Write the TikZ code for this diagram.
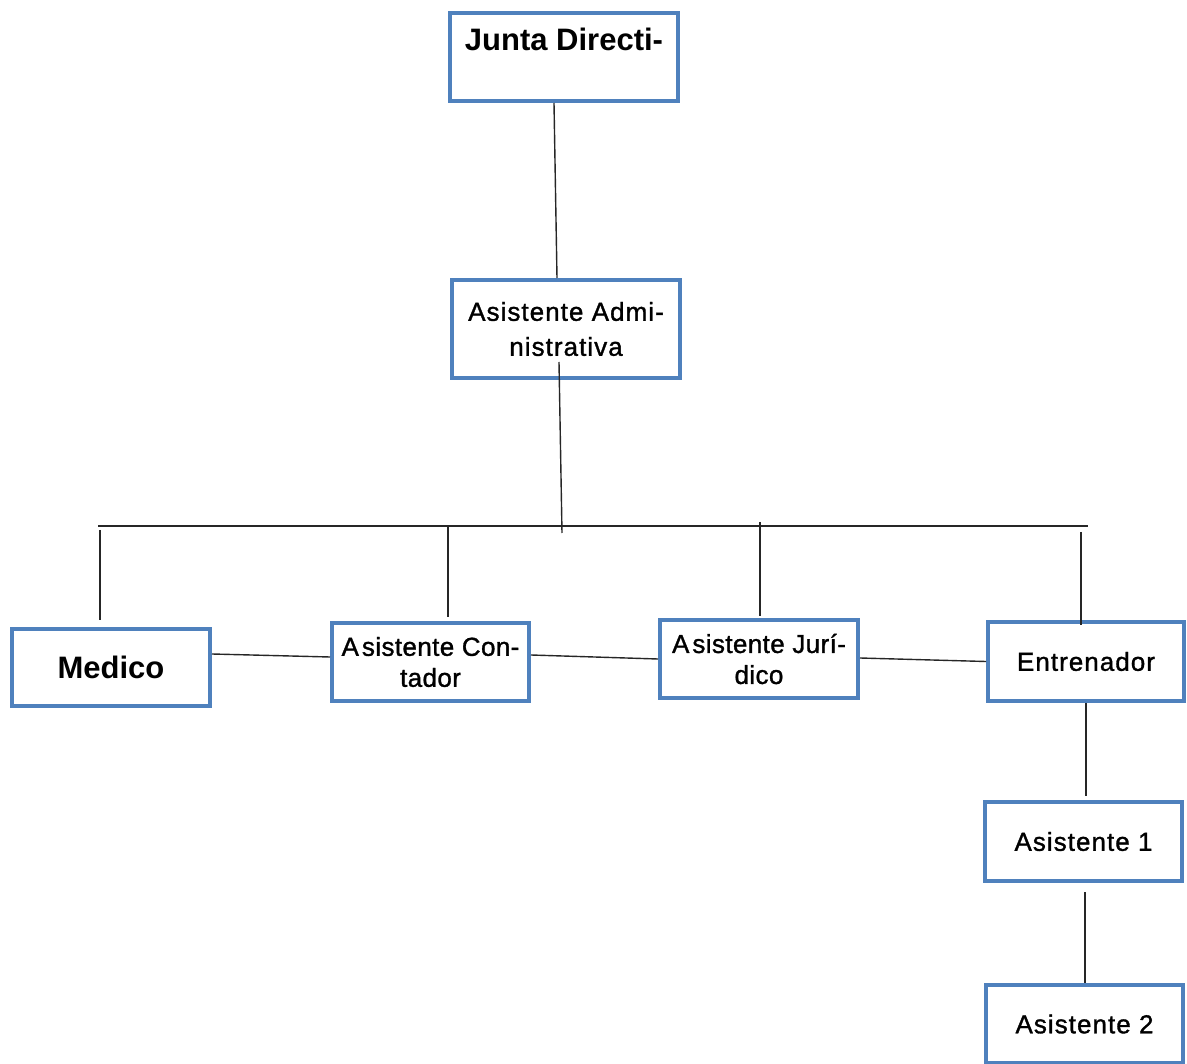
\documentclass[tikz,border=0pt]{standalone}
\usepackage{fontspec}
\setmainfont{Liberation Sans}
\newfontfamily\spacedfont[LetterSpace=4,FakeBold=1.2]{Liberation Sans}
\newfontfamily\tightfont[LetterSpace=1.5,FakeBold=1.2]{Liberation Sans}
\definecolor{boxblue}{HTML}{4F81BD}
\begin{document}
\begin{tikzpicture}[x=1pt,y=-1pt,
  orgbox/.style={draw=boxblue, line width=4pt, fill=white, inner sep=0pt, align=center},
  conn/.style={draw=black!85, line width=1.4pt},
  reg/.style={font=\spacedfont\fontsize{26}{31}\selectfont},
  tight/.style={font=\tightfont\fontsize{26}{31}\selectfont},
  bld/.style={font=\bfseries\fontsize{31}{35}\selectfont}]
\useasboundingbox (0,0) rectangle (1187,1064);
\clip (0,0) rectangle (1187,1064);

\node[orgbox,bld,minimum width=228,minimum height=88] (junta) at (564,57) {Junta Directi-\\\mbox{}};
\node[orgbox,reg,font=\spacedfont\fontsize{26}{35}\selectfont,minimum width=228,minimum height=98] (admin) at (566,329) {Asistente Admi-\\nistrativa};
\node[orgbox,bld,minimum width=198,minimum height=77] (medico) at (111,667.5) {Medico};
\node[orgbox,tight,minimum width=197,minimum height=78] (contador) at (430.5,662) {A\kern3pt sistente Con-\\tador};
\node[orgbox,tight,minimum width=198,minimum height=78] (juridico) at (759,659) {A\kern3pt sistente Jurí-\\dico};
\node[orgbox,reg,minimum width=196,minimum height=79] (entrenador) at (1086,661.5) {Entrenador};
\node[orgbox,reg,minimum width=197,minimum height=79] (asist1) at (1083.5,841.5) {Asistente 1};
\node[orgbox,reg,minimum width=197,minimum height=78] (asist2) at (1084.5,1024) {Asistente 2};

\coordinate (busL) at (98,526);
\coordinate (busR) at (1088,526);
\coordinate (busA) at (562,533);
\coordinate (dropM) at (100,530);
\coordinate (dropC) at (448,526);
\coordinate (dropJ) at (760,522);
\coordinate (dropE) at (1081,532);

\draw[conn] ([xshift=-10pt]junta.south) -- ([xshift=-9pt]admin.north);
\draw[conn] ([xshift=-7pt,yshift=18pt]admin.south) -- (busA);
\draw[conn] (busL) -- (busR);
\draw[conn] (dropM) -- ([xshift=-11pt,yshift=7pt]medico.north);
\draw[conn] (dropC) -- ([xshift=17.5pt,yshift=4pt]contador.north);
\draw[conn] (dropJ) -- ([xshift=1pt,yshift=2pt]juridico.north);
\draw[conn] (dropE) -- ([xshift=-5pt,yshift=-5pt]entrenador.north);
\draw[conn] ([yshift=13.5pt]medico.east) -- ([yshift=5pt]contador.west);
\draw[conn] ([yshift=7pt]contador.east) -- (juridico.west);
\draw[conn] ([yshift=1pt]juridico.east) -- (entrenador.west);
\draw[conn] (entrenador.south) -- ([xshift=2.5pt,yshift=4pt]asist1.north);
\draw[conn] ([xshift=1.5pt,yshift=-9pt]asist1.south) -- ([xshift=0.5pt]asist2.north);
\end{tikzpicture}
\end{document}
